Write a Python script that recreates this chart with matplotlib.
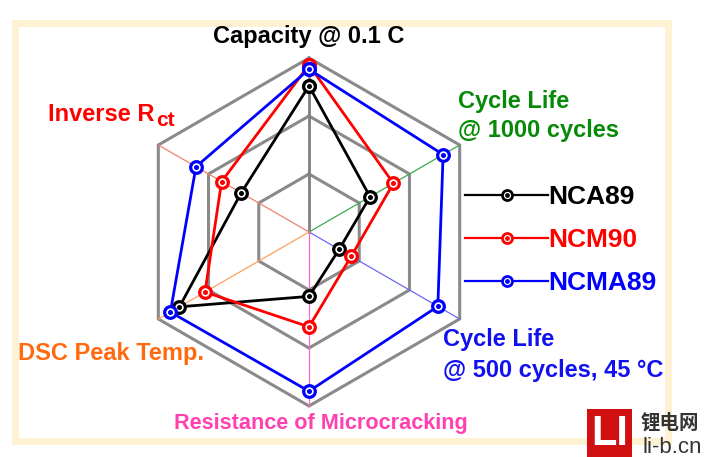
import numpy as np
import matplotlib
matplotlib.use("Agg")
import matplotlib.pyplot as plt
from matplotlib.lines import Line2D
from matplotlib.patches import Rectangle
from matplotlib.legend_handler import HandlerTuple

plt.rcParams['font.family'] = ['Liberation Sans', 'DejaVu Sans']

# ---------------- data ----------------
categories = ['Capacity @ 0.1 C', 'Cycle Life\n@ 1000 cycles',
              'Cycle Life\n@ 500 cycles, 45 \u00b0C', 'Resistance of Microcracking',
              'DSC Peak Temp.', 'Inverse Rct']
series_names = ['NCA89', 'NCM90', 'NCMA89']
nca89 = [0.84, 0.405, 0.20, 0.37, 0.86, 0.45]
ncm90 = [0.96, 0.56, 0.28, 0.545, 0.69, 0.58]
ncma89 = [0.935, 0.89, 0.855, 0.915, 0.92, 0.75]
grid_levels = [1 / 3, 2 / 3, 1.0]

series_values = [nca89, ncm90, ncma89]
series_colors = ['#000000', '#FF0000', '#0000FF']
spoke_colors = ['#808080', '#3CAA50', '#6A6AF0', '#FF66CC', '#FFA060', '#F08070']

W, H = 704, 457
fig = plt.figure(figsize=(W / 100, H / 100), dpi=100)
fig.patch.set_facecolor('white')


def fx(x):
    return x / W


def fy(y):
    return 1 - y / H


# cream frame
fig.patches.append(Rectangle((fx(14.5), fy(440.5)), fx(668) - fx(14.5), fy(23) - fy(440.5),
                             transform=fig.transFigure, fill=False,
                             edgecolor='#FEF2D3', linewidth=5.0, zorder=0))

# polar axes centred at (309, 232) px with radius 174 px
cx, cy, R = 309, 232, 174
ax = fig.add_axes([fx(cx - R), fy(cy + R), 2 * R / W, 2 * R / H], projection='polar')
ax.set_theta_offset(np.pi / 2)
ax.set_theta_direction(-1)
ax.set_ylim(0, 1)
ax.set_axis_off()

n = len(categories)
theta = np.arange(n) * 2 * np.pi / n
theta_c = np.append(theta, theta[0])

# hexagonal grid
for lv in grid_levels:
    ax.plot(theta_c, [lv] * (n + 1), color='#8A8A8A', lw=2.2, zorder=1, clip_on=False,
            solid_joinstyle='miter')
# spokes
for t, c in zip(theta, spoke_colors):
    ax.plot([t, t], [0, 1], color=c, lw=2.0 if c == '#808080' else 0.9, zorder=1.5, clip_on=False)

# series
for i, (vals, col) in enumerate(zip(series_values, series_colors)):
    v = np.append(vals, vals[0])
    ax.plot(theta_c, v, color=col, lw=2.0, marker='o', ms=8.4, mfc='white', mec=col,
            mew=2.3, zorder=3 + i, clip_on=False)
    ax.plot(theta, vals, ls='none', marker='o', ms=2.6, color=col, zorder=3.5 + i, clip_on=False)

# axis labels
bold = dict(fontweight='bold', fontsize=17)
fig.text(fx(309), fy(43), 'Capacity @ 0.1 C', color='black', ha='center', va='baseline', **bold)
fig.text(fx(458), fy(108), 'Cycle Life', color='#078A07', ha='left', va='baseline', **bold)
fig.text(fx(458), fy(137), '@ 1000 cycles', color='#078A07', ha='left', va='baseline', **bold)
fig.text(fx(443), fy(346), 'Cycle Life', color='#1010F0', ha='left', va='baseline', **bold)
fig.text(fx(443), fy(377), '@ 500 cycles, 45 \u00b0C', color='#1010F0', ha='left', va='baseline', **bold)
fig.text(fx(321), fy(429), 'Resistance of Microcracking', color='#FF40B0', ha='center',
         va='baseline', fontweight='bold', fontsize=15.6)
fig.text(fx(18), fy(360), 'DSC Peak Temp.', color='#FF6A10', ha='left', va='baseline', **bold)
t_inv = fig.text(fx(48), fy(121), 'Inverse R', color='#FF0000', ha='left', va='baseline', **bold)
ax.annotate('ct', xy=(1.0, 0.0), xycoords=t_inv, xytext=(1, 0), textcoords='offset points',
            color='#FF0000', ha='left', va='baseline', fontweight='bold', fontsize=15,
            annotation_clip=False)

# legend
handles = []
for col in series_colors:
    l1 = Line2D([], [], color=col, lw=1.6, marker='o', ms=7.2, mfc='white', mec=col, mew=2.0)
    l2 = Line2D([], [], ls='none', marker='o', ms=2.4, color=col)
    handles.append((l1, l2))
leg = fig.legend(handles, series_names, handler_map={tuple: HandlerTuple(ndivide=1)},
                 loc='center left', bbox_to_anchor=(fx(465), fy(240)), frameon=False,
                 prop=dict(weight='bold', size=19), handlelength=3.15, handletextpad=0.0,
                 labelspacing=0.72, borderpad=0, borderaxespad=0)
for t, col in zip(leg.get_texts(), series_colors):
    t.set_color(col)

# watermark
fig.patches.append(Rectangle((fx(587), fy(457)), fx(632) - fx(587), fy(409) - fy(457),
                             transform=fig.transFigure, facecolor='#D01010', edgecolor='none', zorder=5))
fig.text(fx(609.5), fy(434), 'LI', color='white', fontsize=30, fontweight='bold',
         ha='center', va='center', zorder=6)
fig.text(fx(641), fy(429), '锂电网', color='#333333', fontsize=14, fontweight='bold',
         family=['Noto Sans CJK SC', 'DejaVu Sans'], ha='left', va='baseline')
fig.text(fx(642), fy(453), 'li-b.cn', color='#333333', fontsize=16, ha='left', va='baseline')

fig.savefig('out.png', dpi=100, facecolor='white')
